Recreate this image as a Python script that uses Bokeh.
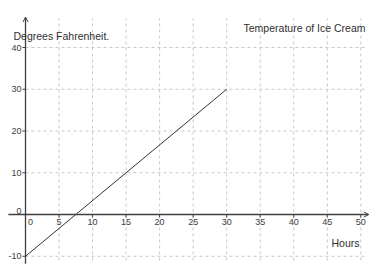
from bokeh.plotting import figure
from bokeh.models import Range1d, Label, Arrow, OpenHead, ColumnDataSource
from bokeh.core.properties import value
from bokeh.embed import file_html
from bokeh.resources import INLINE

# data
line_x = [0, 30]
line_y = [-10, 30]
x_ticks = [0, 5, 10, 15, 20, 25, 30, 35, 40, 45, 50]
y_ticks = [-10, 0, 10, 20, 30, 40]
x_tick_labels = [str(v) for v in x_ticks]
y_tick_labels = [str(v) for v in y_ticks]
title_text = "Temperature of Ice Cream"
x_label = "Hours"
y_label = "Degrees Fahrenheit."

FONT = "Liberation Sans"
PX_X = 6.706
PX_Y = 4.175

p = figure(width=388, height=278, output_backend="svg", toolbar_location=None,
           x_range=Range1d(-25 / PX_X, 363 / PX_X),
           y_range=Range1d(-64 / PX_Y, 214 / PX_Y),
           min_border=0, outline_line_color=None)
p.xaxis.visible = False
p.yaxis.visible = False
p.xgrid.visible = False
p.ygrid.visible = False
p.background_fill_color = "white"
p.border_fill_color = "white"

grid_color = "#c8c8c8"
# vertical grid lines
vx = [v for v in x_ticks if v != 0]
p.segment(x0=vx, x1=vx, y0=[-11.0] * len(vx), y1=[47.0] * len(vx),
          line_color=grid_color, line_width=1, line_dash="3 3")
# horizontal grid lines
hy = [v for v in y_ticks if v != 0]
p.segment(x0=[0] * len(hy), x1=[51.0] * len(hy), y0=hy, y1=hy,
          line_color=grid_color, line_width=1, line_dash="3 3")

# axes with arrows
axis_color = "#404040"
p.add_layout(Arrow(end=OpenHead(size=5, line_color=axis_color, line_width=1),
                   x_start=-2.55, y_start=0, x_end=51.2, y_end=0,
                   line_color=axis_color, line_width=1.3))
p.add_layout(Arrow(end=OpenHead(size=5, line_color=axis_color, line_width=1),
                   x_start=0, y_start=-11.8, x_end=0, y_end=47.3,
                   line_color=axis_color, line_width=1.3))

# small tick marks
tx = [v for v in x_ticks if v != 0]
p.segment(x0=tx, x1=tx, y0=[0] * len(tx), y1=[-0.7] * len(tx),
          line_color=axis_color, line_width=1)
ty = [v for v in y_ticks if v != 0]
p.segment(x0=[0] * len(ty), x1=[-0.45] * len(ty), y0=ty, y1=ty,
          line_color=axis_color, line_width=1)

# data line
p.line(line_x, line_y, line_color="#333333", line_width=1)

# tick labels
lab_color = "#404040"
xs = ColumnDataSource(dict(x=x_ticks, y=[0] * len(x_ticks), t=x_tick_labels,
                           off=[5 if v == 0 else 0 for v in x_ticks]))
p.text(x="x", y="y", text="t", x_offset="off", y_offset=4, source=xs,
       text_align="center", text_baseline="top",
       text_font=value(FONT), text_font_size="9px", text_color=lab_color)
ys = ColumnDataSource(dict(x=[0] * len(y_ticks), y=y_ticks, t=y_tick_labels,
                           off=[-4 if v == 0 else 0 for v in y_ticks]))
p.text(x="x", y="y", text="t", x_offset=-4, y_offset="off", source=ys,
       text_align="right", text_baseline="middle",
       text_font=value(FONT), text_font_size="9px", text_color=lab_color)

# titles
p.add_layout(Label(x=365, y=278 - 27, x_units="screen", y_units="screen",
                   text=title_text, text_align="right", text_baseline="alphabetic",
                   text_font=FONT, text_font_size="10.5px", text_color="#303030"))
p.add_layout(Label(x=13, y=278 - 35, x_units="screen", y_units="screen",
                   text=y_label, text_align="left", text_baseline="alphabetic",
                   text_font=FONT, text_font_size="10.5px", text_color="#303030"))
p.add_layout(Label(x=359, y=278 - 242, x_units="screen", y_units="screen",
                   text=x_label, text_align="right", text_baseline="alphabetic",
                   text_font=FONT, text_font_size="10.5px", text_color="#303030"))

open("out.html", "w").write(file_html(p, INLINE))
